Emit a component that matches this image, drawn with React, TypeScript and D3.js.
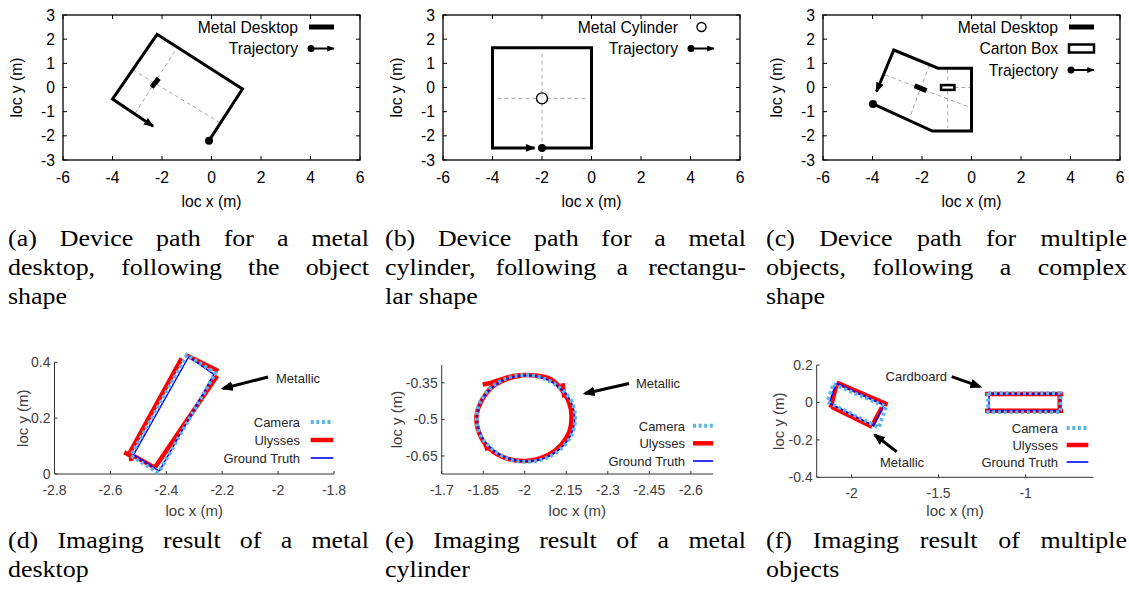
import React from "react";
import * as d3 from "d3";

type Pt = [number, number];

// ---------- top row: device paths (gnuplot style) ----------
const topXTicks = [-6, -4, -2, 0, 2, 4, 6];
const topYTicks = [-3, -2, -1, 0, 1, 2, 3];

const pathA: Pt[] = [[-0.1, -2.2], [1.25, -0.06], [-2.2, 2.2], [-4, -0.48], [-2.36, -1.6]];
const deskA: Pt[] = [[-2.42, 0.01], [-2.13, 0.38]];
const guideA: Pt[][] = [
  [[-3.17, 0.73], [0.35, -1.46]],
  [[-3.09, -1.08], [-1.41, 1.62]],
];

const pathB: Pt[] = [[-2, -2.5], [0, -2.5], [0, 1.65], [-4, 1.65], [-4, -2.5], [-2.3, -2.5]];
const cylB: Pt = [-2, -0.45];
const guideB: Pt[][] = [
  [[-3.8, -0.45], [-0.2, -0.45]],
  [[-2, 1.4], [-2, -2.3]],
];

const pathC: Pt[] = [[-3.98, -0.68], [-1.58, -1.8], [0, -1.8], [0, 0.8], [-1.35, 0.8], [-3.14, 1.55], [-3.84, -0.17]];
const deskC: Pt[] = [[-2.3, 0.07], [-1.82, -0.13]];
const cartonC: Pt[] = [[-1.23, -0.1], [-0.69, 0.1]];
const guideC: Pt[][] = [
  [[-3.49, 0.52], [-0.1, -0.81]],
  [[-1.7, 0.93], [-2.48, -1.2]],
  [[-0.96, 0.75], [-0.96, -1.68]],
  [[-0.69, 0], [0, 0]],
];

// ---------- bottom row: imaging results (MATLAB style) ----------
const dXTicks = [-2.8, -2.6, -2.4, -2.2, -2, -1.8];
const dYTicks = [0, 0.2, 0.4];
const camD: Pt[] = [[-2.428, 0.004], [-2.527, 0.066], [-2.326, 0.426], [-2.224, 0.362], [-2.428, 0.004]];
const gtD: Pt[] = [[-2.425, 0.01], [-2.518, 0.068], [-2.32, 0.42], [-2.23, 0.357], [-2.425, 0.01]];
const ulyD: Pt[][] = [
  [[-2.534, 0.07], [-2.345, 0.414]],
  [[-2.33, 0.426], [-2.214, 0.369]],
  [[-2.218, 0.352], [-2.44, 0.024]],
  [[-2.44, 0.022], [-2.515, 0.064]],
  [[-2.55, 0.078], [-2.515, 0.058]],
  [[-2.527, 0.074], [-2.525, 0.046]],
];

const eXTicks = [-1.7, -1.85, -2, -2.15, -2.3, -2.45, -2.6];
const eYTicks = [-0.35, -0.5, -0.65];
const gtE: Pt[] = [
  [-2.18, -0.496], [-2.167, -0.429], [-2.128, -0.372], [-2.071, -0.333],
  [-2.004, -0.32], [-1.937, -0.333], [-1.88, -0.372], [-1.841, -0.429],
  [-1.828, -0.496], [-1.841, -0.563], [-1.88, -0.62], [-1.937, -0.659],
  [-2.004, -0.672], [-2.071, -0.659], [-2.128, -0.62], [-2.167, -0.563],
];
const camE: Pt[] = [
  [-2.182, -0.496], [-2.17, -0.428], [-2.126, -0.37], [-2.068, -0.332],
  [-2.004, -0.318], [-1.936, -0.331], [-1.878, -0.37], [-1.838, -0.43],
  [-1.826, -0.497], [-1.84, -0.565], [-1.882, -0.622], [-1.938, -0.661],
  [-2.004, -0.674], [-2.072, -0.661], [-2.13, -0.621], [-2.17, -0.562],
];
const ulyE: Pt[] = [
  [-1.848, -0.357], [-1.877, -0.35], [-1.918, -0.335], [-1.966, -0.321], [-2.001, -0.318],
  [-2.084, -0.33], [-2.125, -0.366], [-2.161, -0.434], [-2.169, -0.489], [-2.161, -0.551],
  [-2.131, -0.605], [-2.084, -0.646], [-2.001, -0.671], [-1.918, -0.653], [-1.86, -0.605],
  [-1.83, -0.537], [-1.826, -0.482], [-1.842, -0.428], [-1.883, -0.366], [-1.942, -0.332],
  [-1.99, -0.32],
];
const ulyEBits: Pt[][] = [
  [[-2.137, -0.352], [-2.143, -0.41]],
  [[-1.857, -0.6], [-1.866, -0.627]],
];

const fXTicks = [-2, -1.5, -1];
const fYTicks = [-0.4, -0.2, 0, 0.2];
const gtMetalF: Pt[] = [[-2.087, 0.103], [-1.815, -0.014], [-1.872, -0.125], [-2.129, -0.003], [-2.087, 0.103]];
const camMetalF: Pt[] = [[-2.104, 0.098], [-1.801, -0.023], [-1.843, -0.134], [-2.139, 0.003], [-2.104, 0.098]];
const ulyMetalF: Pt[][] = [
  [[-2.085, 0.106], [-1.793, -0.012]],
  [[-2.087, 0.092], [-2.12, -0.028]],
  [[-2.115, -0.023], [-1.882, -0.13]],
  [[-1.826, -0.027], [-1.882, -0.125]],
];
const gtCardF: Pt[] = [[-1.21, 0.045], [-0.804, 0.045], [-0.804, -0.044], [-1.21, -0.044], [-1.21, 0.045]];
const camCardF: Pt[] = [[-1.215, 0.05], [-0.8, 0.05], [-0.8, -0.052], [-1.215, -0.052], [-1.215, 0.05]];
const ulyCardF: Pt[][] = [
  [[-1.233, 0.045], [-0.784, 0.045]],
  [[-1.233, -0.044], [-0.784, -0.044]],
  [[-0.804, 0.045], [-0.804, -0.044]],
];

const captionsTop = [
  ["(a) Device path for a metal", "desktop, following the object", "shape"],
  ["(b) Device path for a metal", "cylinder, following a rectangu-", "lar shape"],
  ["(c) Device path for multiple", "objects, following a complex", "shape"],
];
const captionsBottom = [
  ["(d) Imaging result of a metal", "desktop"],
  ["(e) Imaging result of a metal", "cylinder"],
  ["(f) Imaging result of multiple", "objects"],
];

const CAM = "#5AB4E6";
const ULY = "#FF0000";
const GT = "#0000FF";
const AX = "#333";
const SANS = '"Liberation Sans", Arial, sans-serif';
const SERIF = '"Liberation Serif", "Times New Roman", serif';

type Lin = d3.ScaleLinear<number, number>;

const ctx = typeof document !== "undefined" ? document.createElement("canvas").getContext("2d") : null;
function measure(s: string, font: string) {
  if (ctx) {
    ctx.font = font;
    return ctx.measureText(s).width;
  }
  return s.length * 10;
}

// justified caption lines, last line left aligned
function Caption({ x, y, lines }: { x: number; y: number; lines: string[] }) {
  const fs = 24, sx = 1.08, W = 361, lh = 29;
  const font = `${fs}px "Liberation Serif"`;
  return (
    <g fontFamily={SERIF} fontSize={fs} fill="#000">
      {lines.map((line, i) => {
        const words = line.split(" ");
        const ws = words.map((w) => measure(w, font) * sx);
        const last = i === lines.length - 1;
        const gap = last || words.length < 2 ? measure(" ", font) * sx : (W - d3.sum(ws)) / (words.length - 1);
        let cx = x;
        return words.map((w, j) => {
          const el = (
            <text key={i + "-" + j} x={cx} y={y + i * lh} textLength={ws[j]} lengthAdjust="spacingAndGlyphs">
              {w}
            </text>
          );
          cx += ws[j] + gap;
          return el;
        });
      })}
    </g>
  );
}

const lineOf = (x: Lin, y: Lin, curve: d3.CurveFactory = d3.curveLinear) =>
  d3.line<Pt>().x((d) => x(d[0])).y((d) => y(d[1])).curve(curve);

function TopAxes({ x, y }: { x: Lin; y: Lin }) {
  const [x0, x1] = x.range();
  const [y0, y1] = y.range();
  return (
    <g fontFamily={SANS} fontSize={15.7} fill="#000">
      {topXTicks.map((t) => (
        <g key={"x" + t}>
          <line x1={x(t)} x2={x(t)} y1={y0} y2={y0 - 4} stroke="#000" />
          <line x1={x(t)} x2={x(t)} y1={y1} y2={y1 + 4} stroke="#000" />
          <text x={x(t)} y={y0 + 23} textAnchor="middle">{t}</text>
        </g>
      ))}
      {topYTicks.map((t) => (
        <g key={"y" + t}>
          <line x1={x0} x2={x0 + 4} y1={y(t)} y2={y(t)} stroke="#000" />
          <line x1={x1} x2={x1 - 4} y1={y(t)} y2={y(t)} stroke="#000" />
          <text x={x0 - 8} y={y(t) + 5.5} textAnchor="end">{t}</text>
        </g>
      ))}
      <rect x={x0} y={y1} width={x1 - x0} height={y0 - y1} fill="none" stroke="#000" strokeWidth={1.3} />
      <text x={(x0 + x1) / 2} y={y0 + 47} textAnchor="middle">loc x (m)</text>
      <text transform={`translate(${x0 - 47},${(y0 + y1) / 2}) rotate(-90)`} textAnchor="middle" dominantBaseline="central">
        loc y (m)
      </text>
    </g>
  );
}

function Guides({ x, y, segs }: { x: Lin; y: Lin; segs: Pt[][] }) {
  const l = lineOf(x, y);
  return (
    <g>
      {segs.map((s, i) => (
        <path key={i} d={l(s) || ""} fill="none" stroke="#aaa" strokeWidth={1} strokeDasharray="4,3" />
      ))}
    </g>
  );
}

function Trajectory({ x, y, pts }: { x: Lin; y: Lin; pts: Pt[] }) {
  return (
    <g>
      <path d={lineOf(x, y)(pts) || ""} fill="none" stroke="#000" strokeWidth={3} strokeLinejoin="miter" markerEnd="url(#arrowT)" />
      <circle cx={x(pts[0][0])} cy={y(pts[0][1])} r={4} fill="#000" />
    </g>
  );
}

function TopLegend({ right, items }: { right: number; items: { label: string; kind: string }[] }) {
  return (
    <g fontFamily={SANS} fontSize={15.7} fill="#000">
      {items.map((it, i) => {
        const yy = 27 + i * 21.5;
        const a = right - 51, b = right - 26;
        return (
          <g key={it.label}>
            <text x={right - 62} y={yy + 5.5} textAnchor="end">{it.label}</text>
            {it.kind === "bar" && <line x1={a} x2={b} y1={yy} y2={yy} stroke="#000" strokeWidth={5} />}
            {it.kind === "circle" && <circle cx={(a + b) / 2} cy={yy} r={4.5} fill="#fff" stroke="#000" strokeWidth={1.4} />}
            {it.kind === "box" && <rect x={a} y={yy - 4} width={b - a} height={8} fill="#fff" stroke="#000" strokeWidth={2.5} />}
            {it.kind === "traj" && (
              <g>
                <line x1={a + 2} x2={b} y1={yy} y2={yy} stroke="#000" strokeWidth={2} markerEnd="url(#arrowS)" />
                <circle cx={a + 2} cy={yy} r={3.5} fill="#000" />
              </g>
            )}
          </g>
        );
      })}
    </g>
  );
}

function BottomAxes({
  x, y, xTicks, yTicks, ylabDx,
}: { x: Lin; y: Lin; xTicks: number[]; yTicks: number[]; ylabDx: number }) {
  const [x0, x1] = x.range();
  const [y0, y1] = y.range();
  return (
    <g fontFamily={SANS} fontSize={14} fill="#404040">
      <line x1={x0} x2={x1} y1={y0} y2={y0} stroke={AX} strokeWidth={1} />
      <line x1={x0} x2={x0} y1={y0} y2={y1} stroke={AX} strokeWidth={1} />
      {xTicks.map((t) => (
        <g key={"x" + t}>
          <line x1={x(t)} x2={x(t)} y1={y0} y2={y0 - 3} stroke={AX} />
          <text x={x(t)} y={y0 + 21} textAnchor="middle">{String(t)}</text>
        </g>
      ))}
      {yTicks.map((t) => (
        <g key={"y" + t}>
          <line x1={x0} x2={x0 + 3} y1={y(t)} y2={y(t)} stroke={AX} />
          <text x={x0 - 4} y={y(t) + 5} textAnchor="end">{String(t)}</text>
        </g>
      ))}
      <text x={(x0 + x1) / 2} y={516} textAnchor="middle" fontSize={15}>loc x (m)</text>
      <text
        transform={`translate(${x0 - ylabDx},${(y0 + y1) / 2}) rotate(-90)`}
        textAnchor="middle"
        dominantBaseline="central"
        fontSize={15}
      >
        loc y (m)
      </text>
    </g>
  );
}

function BottomLegend({ right, rows, a, b }: { right: number; rows: number[]; a: number; b: number }) {
  const items = [
    { label: "Camera", stroke: CAM, w: 4, dash: "3,2.6" },
    { label: "Ulysses", stroke: ULY, w: 4.5, dash: undefined },
    { label: "Ground Truth", stroke: GT, w: 1.6, dash: undefined },
  ];
  return (
    <g fontFamily={SANS} fontSize={13} fill="#262626">
      {items.map((it, i) => (
        <g key={it.label}>
          <text x={right} y={rows[i] + 5} textAnchor="end">{it.label}</text>
          <line x1={a} x2={b} y1={rows[i]} y2={rows[i]} stroke={it.stroke} strokeWidth={it.w} strokeDasharray={it.dash} />
        </g>
      ))}
    </g>
  );
}

function Note({ text, tx, ty, from, to, anchor = "start" }: { text: string; tx: number; ty: number; from: Pt; to: Pt; anchor?: string }) {
  return (
    <g>
      <line x1={from[0]} y1={from[1]} x2={to[0]} y2={to[1]} stroke="#000" strokeWidth={3} markerEnd="url(#arrowN)" />
      <text x={tx} y={ty + 5} fontFamily={SANS} fontSize={13} fill="#262626" textAnchor={anchor as any}>{text}</text>
    </g>
  );
}

function Imaging({ x, y, cam, gt, uly, curve }: { x: Lin; y: Lin; cam: Pt[]; gt: Pt[]; uly: Pt[][]; curve?: d3.CurveFactory }) {
  const l = lineOf(x, y, curve);
  return (
    <g fill="none">
      {uly.map((s, i) => (
        <path key={i} d={lineOf(x, y, s.length > 2 ? d3.curveCatmullRom : d3.curveLinear)(s) || ""} stroke={ULY} strokeWidth={4.5} />
      ))}
      <path d={l(gt) || ""} stroke={GT} strokeWidth={1.5} />
      <path d={l(cam) || ""} stroke={CAM} strokeWidth={3.8} strokeDasharray="3,2.8" />
    </g>
  );
}

export default function App() {
  const tops = [63, 443, 823].map((left) => ({
    left,
    x: d3.scaleLinear().domain([-6, 6]).range([left, left + 297]),
    y: d3.scaleLinear().domain([-3, 3]).range([160, 15]),
  }));
  const [A, B, C] = tops;

  const xD = d3.scaleLinear().domain([-2.8, -1.8]).range([54.5, 334]);
  const yD = d3.scaleLinear().domain([0, 0.4]).range([474, 362.3]);
  const xE = d3.scaleLinear().domain([-1.7, -2.68]).range([441.7, 713]);
  const yE = d3.scaleLinear().domain([-0.724, -0.277]).range([474, 365]);
  const xF = d3.scaleLinear().domain([-2.2, -0.61]).range([816.7, 1093.5]);
  const yF = d3.scaleLinear().domain([-0.4, 0.2]).range([477.3, 365]);

  return (
    <svg width={1129} height={595} style={{ position: "absolute", left: 0, top: 0, background: "#fff" }}>
      <defs>
        <marker id="arrowT" viewBox="0 0 10 8" refX={9} refY={4} markerWidth={10} markerHeight={8} markerUnits="userSpaceOnUse" orient="auto">
          <path d="M0,0 L10,4 L0,8 z" fill="#000" />
        </marker>
        <marker id="arrowS" viewBox="0 0 10 8" refX={9} refY={4} markerWidth={8} markerHeight={6} markerUnits="userSpaceOnUse" orient="auto">
          <path d="M0,0 L10,4 L0,8 z" fill="#000" />
        </marker>
        <marker id="arrowN" viewBox="0 0 10 8" refX={8} refY={4} markerWidth={12} markerHeight={10} markerUnits="userSpaceOnUse" orient="auto">
          <path d="M0,0 L10,4 L0,8 z" fill="#000" />
        </marker>
      </defs>
      <rect width={1129} height={595} fill="#fff" />

      {/* (a) */}
      <Guides x={A.x} y={A.y} segs={guideA} />
      <Trajectory x={A.x} y={A.y} pts={pathA} />
      <path d={lineOf(A.x, A.y)(deskA) || ""} stroke="#000" strokeWidth={5} />
      <TopAxes x={A.x} y={A.y} />
      <TopLegend right={360} items={[{ label: "Metal Desktop", kind: "bar" }, { label: "Trajectory", kind: "traj" }]} />

      {/* (b) */}
      <Guides x={B.x} y={B.y} segs={guideB} />
      <Trajectory x={B.x} y={B.y} pts={pathB} />
      <circle cx={B.x(cylB[0])} cy={B.y(cylB[1])} r={5.5} fill="#fff" stroke="#000" strokeWidth={1.4} />
      <TopAxes x={B.x} y={B.y} />
      <TopLegend right={740} items={[{ label: "Metal Cylinder", kind: "circle" }, { label: "Trajectory", kind: "traj" }]} />

      {/* (c) */}
      <Guides x={C.x} y={C.y} segs={guideC} />
      <Trajectory x={C.x} y={C.y} pts={pathC} />
      <path d={lineOf(C.x, C.y)(deskC) || ""} stroke="#000" strokeWidth={5} />
      <rect
        x={C.x(cartonC[0][0])}
        y={C.y(cartonC[1][1])}
        width={C.x(cartonC[1][0]) - C.x(cartonC[0][0])}
        height={C.y(cartonC[0][1]) - C.y(cartonC[1][1])}
        fill="#fff"
        stroke="#000"
        strokeWidth={2.5}
      />
      <TopAxes x={C.x} y={C.y} />
      <TopLegend
        right={1120}
        items={[
          { label: "Metal Desktop", kind: "bar" },
          { label: "Carton Box", kind: "box" },
          { label: "Trajectory", kind: "traj" },
        ]}
      />

      {captionsTop.map((c, i) => (
        <Caption key={i} x={[8, 385, 766][i]} y={246} lines={c} />
      ))}

      {/* (d) */}
      <BottomAxes x={xD} y={yD} xTicks={dXTicks} yTicks={dYTicks} ylabDx={32} />
      <Imaging x={xD} y={yD} cam={camD} gt={gtD} uly={ulyD} />
      <BottomLegend right={300} rows={[422, 440, 458]} a={310.7} b={333.3} />
      <Note text="Metallic" tx={276} ty={378} from={[268, 377]} to={[223, 388.5]} />

      {/* (e) */}
      <BottomAxes x={xE} y={yE} xTicks={eXTicks} yTicks={eYTicks} ylabDx={45} />
      <Imaging x={xE} y={yE} cam={camE} gt={gtE} uly={[ulyE, ...ulyEBits]} curve={d3.curveCardinalClosed} />
      <BottomLegend right={685} rows={[425.7, 443.3, 461]} a={693} b={713} />
      <Note text="Metallic" tx={636} ty={383} from={[629, 383.5]} to={[585, 393.5]} />

      {/* (f) */}
      <BottomAxes x={xF} y={yF} xTicks={fXTicks} yTicks={fYTicks} ylabDx={38} />
      <Imaging x={xF} y={yF} cam={camMetalF} gt={gtMetalF} uly={ulyMetalF} />
      <Imaging x={xF} y={yF} cam={camCardF} gt={gtCardF} uly={ulyCardF} />
      <BottomLegend right={1058} rows={[428, 445, 462]} a={1066.7} b={1088.3} />
      <Note text="Cardboard" tx={947} ty={376} from={[951.7, 376.7]} to={[980, 386.7]} anchor="end" />
      <Note text="Metallic" tx={880} ty={462} from={[896.7, 451.7]} to={[875, 435]} />

      {captionsBottom.map((c, i) => (
        <Caption key={i} x={[8, 385, 766][i]} y={548} lines={c} />
      ))}
    </svg>
  );
}
